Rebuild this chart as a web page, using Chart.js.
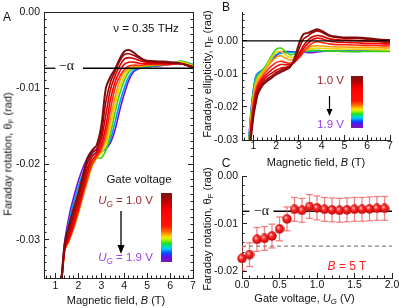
<!DOCTYPE html>
<html>
<head>
<meta charset="utf-8">
<title>Faraday rotation and ellipticity vs gate voltage</title>
<script src="https://cdn.jsdelivr.net/npm/chart.js@4.4.1/dist/chart.umd.min.js"></script>
<style>
  body { margin: 0; width: 399px; height: 308px; position: relative; overflow: hidden; background: #fff;
         font-family: "Liberation Sans", Arial, sans-serif; color: #111; }
  canvas { position: absolute; }
  .t { position: absolute; white-space: nowrap; transform: translate(-50%, -50%); font-size: 11px; line-height: 1; }
  .rot { transform: translate(-50%, -50%) rotate(-90deg); }
  .t sub { font-size: 72%; vertical-align: -0.28em; line-height: 0; }
  .panel { font-size: 12px; }
  .alpha { font-family: "Liberation Serif", "DejaVu Serif", serif; font-size: 14px; }
  .cbar { position: absolute; background: linear-gradient(to bottom, #7a1414 0%, #9c0a0a 7%, #c80000 14%, #ff0000 26%,
          #ff1400 48%, #ff6a00 56%, #ffc800 62%, #f0f000 65%, #90f000 69%, #20e020 73%, #00e0a0 77%, #00c8ff 81%,
          #0050ff 87%, #5a10f0 92%, #7a1ab0 100%); }
  svg { position: absolute; }
</style>
</head>
<body>
<canvas id="chartA" width="199" height="308" style="left:0;top:0"></canvas>
<canvas id="chartB" width="199" height="160" style="left:200px;top:0"></canvas>
<canvas id="chartC" width="199" height="148" style="left:200px;top:160px"></canvas>

<!-- panel A text -->
<div class="t panel" style="left:7px;top:17px">A</div>
<div class="t" style="left:146px;top:28.5px;font-size:11.5px">ν = 0.35 THz</div>
<div class="t alpha" style="left:66.5px;top:66px">−α</div>
<div class="t rot" style="left:8px;top:154px">Faraday rotation, θ<sub>F</sub> (rad)</div>
<div class="t" style="left:116px;top:300px">Magnetic field, <i>B</i> (T)</div>
<div class="t" style="left:139px;top:180px;font-size:11.5px">Gate voltage</div>
<div class="t" style="left:125.5px;top:201px;font-size:11.5px;color:#a0282a"><i>U</i><sub><i>G</i></sub> = 1.0 V</div>
<div class="t" style="left:125.5px;top:257.5px;font-size:11.5px;color:#9a40e8"><i>U</i><sub><i>G</i></sub> = 1.9 V</div>
<div class="cbar" style="left:161px;top:193px;width:11px;height:69px"></div>
<svg style="left:116px;top:211px" width="10" height="44">
  <line x1="5" y1="0" x2="5" y2="36" stroke="#000" stroke-width="1.3"/>
  <polygon points="1.5,34 8.5,34 5,43" fill="#000"/>
</svg>

<!-- panel B text -->
<div class="t panel" style="left:226px;top:7px">B</div>
<div class="t rot" style="left:207px;top:74px">Faraday ellipticity, η<sub>F</sub> (rad)</div>
<div class="t" style="left:316px;top:162px">Magnetic field, <i>B</i> (T)</div>
<div class="t" style="left:330.5px;top:81px;font-size:11.5px;color:#a0282a">1.0 V</div>
<div class="t" style="left:330.5px;top:125px;font-size:11.5px;color:#9a40e8">1.9 V</div>
<div class="cbar" style="left:351px;top:76px;width:12px;height:52px"></div>
<svg style="left:325px;top:96px" width="9" height="21">
  <line x1="4.5" y1="0" x2="4.5" y2="15" stroke="#000" stroke-width="1.2"/>
  <polygon points="1.5,13 7.5,13 4.5,20" fill="#000"/>
</svg>

<!-- panel C text -->
<div class="t panel" style="left:226px;top:163px">C</div>
<div class="t rot" style="left:207px;top:229px">Faraday rotation, θ<sub>F</sub> (rad)</div>
<div class="t" style="left:304.5px;top:298px">Gate voltage, <i>U</i><sub><i>G</i></sub> (V)</div>
<div class="t alpha" style="left:261.5px;top:211px">−α</div>
<div class="t" style="left:347px;top:266px;font-size:12px;color:#ff2020"><i>B</i> = 5 T</div>

<script>
// ---- data: panel A, Faraday rotation vs field for each gate voltage ----
const GATE_V = ['1.0', '1.1', '1.2', '1.3', '1.4', '1.5', '1.6', '1.7', '1.8', '1.9'];
const FIELD_A = [1.2, 1.4, 1.6, 1.8, 2.0, 2.2, 2.4, 2.6, 2.8, 3.0, 3.2, 3.4, 3.6, 3.8, 4.0, 4.2, 4.4, 4.6, 4.8, 5.0, 5.5, 6.0, 6.5, 7.0];
const ROT_1_0 = [-0.0380, -0.0305, -0.0280, -0.0258, -0.0238, -0.0215, -0.0192, -0.0182, -0.0175, -0.0150, -0.0100, -0.0085, -0.0075, -0.0062, -0.0052, -0.0050, -0.0053, -0.0058, -0.0062, -0.0064, -0.0065, -0.0066, -0.0068, -0.0073];
const ROT_1_1 = [-0.0385, -0.0308, -0.0287, -0.0265, -0.0245, -0.0222, -0.0198, -0.0185, -0.0180, -0.0160, -0.0118, -0.0092, -0.0078, -0.0065, -0.0056, -0.0055, -0.0057, -0.0060, -0.0063, -0.0065, -0.0066, -0.0067, -0.0068, -0.0072];
const ROT_1_2 = [-0.0385, -0.0310, -0.0293, -0.0272, -0.0252, -0.0230, -0.0205, -0.0190, -0.0184, -0.0168, -0.0135, -0.0102, -0.0084, -0.0071, -0.0062, -0.0060, -0.0061, -0.0063, -0.0065, -0.0066, -0.0067, -0.0068, -0.0068, -0.0072];
const ROT_1_3 = [-0.0385, -0.0312, -0.0297, -0.0278, -0.0258, -0.0235, -0.0212, -0.0195, -0.0187, -0.0175, -0.0150, -0.0115, -0.0092, -0.0078, -0.0069, -0.0066, -0.0066, -0.0067, -0.0068, -0.0068, -0.0068, -0.0068, -0.0068, -0.0073];
const ROT_1_4 = [-0.0385, -0.0314, -0.0300, -0.0282, -0.0262, -0.0240, -0.0218, -0.0200, -0.0190, -0.0180, -0.0160, -0.0128, -0.0100, -0.0085, -0.0076, -0.0071, -0.0070, -0.0070, -0.0070, -0.0069, -0.0069, -0.0069, -0.0068, -0.0073];
const ROT_1_5 = [-0.0385, -0.0315, -0.0300, -0.0285, -0.0265, -0.0243, -0.0222, -0.0203, -0.0192, -0.0182, -0.0168, -0.0140, -0.0112, -0.0091, -0.0079, -0.0074, -0.0072, -0.0071, -0.0071, -0.0070, -0.0069, -0.0069, -0.0067, -0.0072];
const ROT_1_6 = [-0.0385, -0.0314, -0.0297, -0.0280, -0.0258, -0.0236, -0.0215, -0.0198, -0.0192, -0.0186, -0.0175, -0.0150, -0.0122, -0.0099, -0.0084, -0.0076, -0.0073, -0.0072, -0.0071, -0.0070, -0.0069, -0.0068, -0.0066, -0.0071];
const ROT_1_7 = [-0.0385, -0.0312, -0.0290, -0.0268, -0.0245, -0.0225, -0.0207, -0.0195, -0.0192, -0.0192, -0.0182, -0.0160, -0.0132, -0.0108, -0.0090, -0.0079, -0.0074, -0.0073, -0.0072, -0.0071, -0.0070, -0.0068, -0.0065, -0.0070];
const ROT_1_8 = [-0.0380, -0.0308, -0.0275, -0.0250, -0.0230, -0.0212, -0.0197, -0.0188, -0.0185, -0.0184, -0.0180, -0.0168, -0.0145, -0.0120, -0.0100, -0.0085, -0.0077, -0.0074, -0.0073, -0.0072, -0.0070, -0.0068, -0.0065, -0.0069];
const ROT_1_9 = [-0.0375, -0.0303, -0.0268, -0.0243, -0.0222, -0.0205, -0.0192, -0.0185, -0.0182, -0.0182, -0.0180, -0.0172, -0.0155, -0.0130, -0.0108, -0.0090, -0.0079, -0.0075, -0.0073, -0.0072, -0.0071, -0.0069, -0.0066, -0.0070];
const ROT_CURVES = [ROT_1_0, ROT_1_1, ROT_1_2, ROT_1_3, ROT_1_4, ROT_1_5, ROT_1_6, ROT_1_7, ROT_1_8, ROT_1_9];

// ---- data: panel B, Faraday ellipticity ----
const FIELD_B = [0.8, 0.9, 1.0, 1.1, 1.2, 1.4, 1.6, 1.8, 2.0, 2.2, 2.4, 2.6, 2.8, 3.0, 3.2, 3.4, 3.6, 3.8, 4.0, 4.4, 5.0, 5.5, 6.0, 6.5, 7.0];
const ELL_1_0 = [-0.037, -0.029, -0.023, -0.019, -0.0160, -0.0135, -0.0122, -0.0112, -0.0102, -0.0095, -0.0088, -0.0080, -0.0055, -0.0010, 0.0020, 0.0024, 0.0030, 0.0035, 0.0030, 0.0015, 0.0010, 0.0010, 0.0008, 0.0004, 0.0002];
const ELL_1_1 = [-0.036, -0.028, -0.022, -0.018, -0.0152, -0.0128, -0.0116, -0.0106, -0.0096, -0.0089, -0.0083, -0.0077, -0.0060, -0.0025, 0.0005, 0.0015, 0.0025, 0.0030, 0.0026, 0.0013, 0.0008, 0.0007, 0.0005, 0.0002, 0.0000];
const ELL_1_2 = [-0.035, -0.027, -0.021, -0.017, -0.0145, -0.0122, -0.0108, -0.0098, -0.0089, -0.0083, -0.0080, -0.0076, -0.0064, -0.0040, -0.0015, 0.0002, 0.0012, 0.0016, 0.0014, 0.0005, 0.0002, 0.0001, -0.0001, -0.0003, -0.0005];
const ELL_1_3 = [-0.035, -0.026, -0.020, -0.016, -0.0138, -0.0115, -0.0100, -0.0088, -0.0078, -0.0072, -0.0072, -0.0072, -0.0065, -0.0048, -0.0025, -0.0008, 0.0004, 0.0008, 0.0006, -0.0002, -0.0005, -0.0006, -0.0008, -0.0009, -0.0010];
const ELL_1_4 = [-0.034, -0.025, -0.019, -0.015, -0.0130, -0.0108, -0.0090, -0.0076, -0.0066, -0.0062, -0.0065, -0.0068, -0.0064, -0.0052, -0.0035, -0.0018, -0.0007, -0.0003, -0.0005, -0.0010, -0.0012, -0.0013, -0.0014, -0.0015, -0.0016];
const ELL_1_5 = [-0.033, -0.024, -0.018, -0.014, -0.0120, -0.0100, -0.0080, -0.0062, -0.0050, -0.0045, -0.0052, -0.0058, -0.0055, -0.0045, -0.0032, -0.0022, -0.0016, -0.0015, -0.0016, -0.0018, -0.0019, -0.0020, -0.0020, -0.0021, -0.0022];
const ELL_1_6 = [-0.032, -0.023, -0.017, -0.013, -0.0112, -0.0095, -0.0075, -0.0052, -0.0035, -0.0032, -0.0042, -0.0050, -0.0048, -0.0040, -0.0032, -0.0026, -0.0023, -0.0022, -0.0023, -0.0024, -0.0025, -0.0026, -0.0026, -0.0027, -0.0028];
const ELL_1_7 = [-0.031, -0.022, -0.016, -0.012, -0.0105, -0.0090, -0.0070, -0.0045, -0.0026, -0.0022, -0.0032, -0.0042, -0.0040, -0.0036, -0.0032, -0.0030, -0.0029, -0.0029, -0.0030, -0.0031, -0.0032, -0.0033, -0.0032, -0.0032, -0.0032];
const ELL_1_8 = [-0.030, -0.021, -0.015, -0.011, -0.0098, -0.0088, -0.0072, -0.0055, -0.0042, -0.0038, -0.0036, -0.0035, -0.0034, -0.0033, -0.0032, -0.0032, -0.0031, -0.0030, -0.0030, -0.0031, -0.0032, -0.0032, -0.0031, -0.0030, -0.0030];
const ELL_1_9 = [-0.030, -0.021, -0.015, -0.011, -0.0098, -0.0090, -0.0078, -0.0062, -0.0045, -0.0035, -0.0033, -0.0033, -0.0033, -0.0033, -0.0034, -0.0036, -0.0036, -0.0034, -0.0032, -0.0031, -0.0031, -0.0031, -0.0030, -0.0030, -0.0030];
const ELL_CURVES = [ELL_1_0, ELL_1_1, ELL_1_2, ELL_1_3, ELL_1_4, ELL_1_5, ELL_1_6, ELL_1_7, ELL_1_8, ELL_1_9];

// ---- data: panel C, rotation at B = 5 T vs gate voltage ----
const GATE_C = [0.0, 0.1, 0.2, 0.3, 0.4, 0.5, 0.6, 0.7, 0.8, 0.9, 1.0, 1.1, 1.2, 1.3, 1.4, 1.5, 1.6, 1.7, 1.8, 1.9];
const ROT_C = [-0.0173, -0.0165, -0.0133, -0.0131, -0.0126, -0.0111, -0.0090, -0.0070, -0.0072, -0.0064, -0.0067, -0.0070, -0.0071, -0.0072, -0.0071, -0.0070, -0.0070, -0.0069, -0.0068, -0.0068];
const ERR_C = [0.0025, 0.0025, 0.0025, 0.0025, 0.0025, 0.0025, 0.0025, 0.0025, 0.0025, 0.0025, 0.0025, 0.0025, 0.0025, 0.0025, 0.0025, 0.0025, 0.0025, 0.0025, 0.0025, 0.0025];

// reference levels
const ALPHA = -0.0074;
const ALPHA_SEG_A = [[0.5, 1.0], [2.2, 7.0]];
const ALPHA_SEG_C = [[0.0, 0.1], [0.42, 2.0]];
const ZERO_SEG_B = [0.5, 7.0];
const LEVEL_C = -0.0147;

// ticks
const A_X_TICKS = [1, 2, 3, 4, 5, 6, 7];
const A_X_LABELS = ['1', '2', '3', '4', '5', '6', '7'];
const A_Y_TICKS = [0, -0.01, -0.02, -0.03];
const A_Y_LABELS = ['0.00', '-0.01', '-0.02', '-0.03'];
const B_Y_TICKS = [0, -0.01, -0.02, -0.03];
const B_Y_LABELS = ['0.00', '-0.01', '-0.02', '-0.03'];
const C_X_TICKS = [0, 0.5, 1, 1.5, 2];
const C_X_LABELS = ['0.0', '0.5', '1.0', '1.5', '2.0'];
const C_Y_TICKS = [0, -0.01, -0.02];
const C_Y_LABELS = ['0.00', '-0.01', '-0.02'];

const CURVE_COLORS = ['#7d0c0c', '#a80000', '#d20000', '#f00000', '#ff2a10', '#ff9a00', '#ecd400', '#3cd400', '#0096ff', '#7410d8'];
const FONT_TICK = { family: '"Liberation Sans", Arial, sans-serif', size: 10.5 };

function minorTicks(min, max, step) {
  const out = [];
  for (let i = Math.ceil(min / step - 1e-6); i * step <= max + 1e-9; i++) out.push({ value: +(i * step).toFixed(6) });
  return out;
}

// major axis (labels, long inward ticks) plus a zero-size minor axis on the same side
function axisPair(key, position, range, majors, labels, minorStep, size, pad) {
  const horiz = position === 'bottom' || position === 'top';
  const fit = v => s => {
    if (horiz) s.height = v; else s.width = v;
    s.paddingLeft = s.paddingRight = s.paddingTop = s.paddingBottom = 0;
  };
  const base = { type: 'linear', position, min: range[0], max: range[1] };
  const scales = {};
  scales[key] = {
    ...base, weight: 1,
    border: { display: true, color: '#222', width: 1 },
    grid: { drawOnChartArea: false, tickLength: -5, color: '#222', tickColor: '#222' },
    ticks: { display: !!labels, padding: pad, color: '#111', font: FONT_TICK, maxRotation: 0, autoSkip: false,
             callback: (v, i) => labels ? labels[i] : '' },
    afterBuildTicks: s => { s.ticks = majors.map(v => ({ value: v })); },
    afterFit: fit(size),
  };
  scales[key + 'Minor'] = {
    ...base, weight: 0,
    border: { display: false },
    grid: { drawOnChartArea: false, tickLength: -2.5, color: '#222', tickColor: '#222' },
    ticks: { display: false },
    afterBuildTicks: s => { s.ticks = minorTicks(range[0], range[1], minorStep); },
    afterFit: fit(0),
  };
  return scales;
}

function segment(xs, y, color, width, dash) {
  return {
    data: xs.map(x => ({ x, y })), borderColor: color, borderWidth: width, borderDash: dash || [],
    pointRadius: 0, xAxisID: 'x', yAxisID: 'y',
  };
}

function curveSets(fields, curves) {
  return curves.map((vals, k) => ({
    label: GATE_V[k] + ' V',
    data: fields.map((b, i) => ({ x: b, y: vals[i] })),
    borderColor: CURVE_COLORS[k],
    borderWidth: k === 0 ? 2 : 1.6,
    pointRadius: 0, tension: 0.3, xAxisID: 'x', yAxisID: 'y',
  }));
}

const COMMON = {
  responsive: false, animation: false, events: [],
  plugins: { legend: { display: false }, tooltip: { enabled: false } },
};

// ---- panel A ----
new Chart(document.getElementById('chartA'), {
  type: 'line',
  data: {
    datasets: [
      ...ALPHA_SEG_A.map(s => segment(s, ALPHA, '#000', 1.3)),
      ...curveSets(FIELD_A, ROT_CURVES),
    ],
  },
  options: {
    ...COMMON,
    layout: { padding: { top: 12, right: 6, left: 0, bottom: 0 } },
    scales: {
      ...axisPair('x', 'bottom', [0.5, 7], A_X_TICKS, A_X_LABELS, 0.2, 30, 7),
      ...axisPair('y', 'left', [-0.035, 0], A_Y_TICKS, A_Y_LABELS, 0.001, 44, 9),
      ...axisPair('yr', 'right', [-0.035, 0], A_Y_TICKS, null, 0.001, 0, 0),
      xt: {
        type: 'linear', position: 'top', min: 0.5, max: 7,
        border: { display: true, color: '#222' },
        grid: { drawOnChartArea: false, drawTicks: false },
        ticks: { display: false },
        afterFit: s => { s.height = 0; s.paddingLeft = s.paddingRight = 0; },
      },
    },
  },
});

// ---- panel B ----
new Chart(document.getElementById('chartB'), {
  type: 'line',
  data: {
    datasets: [
      segment(ZERO_SEG_B, 0, '#000', 1.2),
      ...curveSets(FIELD_B, ELL_CURVES),
    ],
  },
  options: {
    ...COMMON,
    layout: { padding: { top: 12, right: 9, left: 0, bottom: 0 } },
    scales: {
      ...axisPair('x', 'bottom', [0.5, 7], A_X_TICKS, A_X_LABELS, 0.2, 20, 5),
      ...axisPair('y', 'left', [-0.03, 0.0087], B_Y_TICKS, B_Y_LABELS, 0.002, 42, 9),
    },
  },
});

// ---- panel C ----
const ball = document.createElement('canvas');
ball.width = ball.height = 10;
{
  const g = ball.getContext('2d');
  const grad = g.createRadialGradient(3.6, 3.4, 0.4, 5, 5, 5);
  grad.addColorStop(0, '#ffc4c4');
  grad.addColorStop(0.35, '#ff2a2a');
  grad.addColorStop(1, '#b80000');
  g.fillStyle = grad;
  g.beginPath();
  g.arc(5, 5, 4.7, 0, Math.PI * 2);
  g.fill();
}

const errPoints = [];
GATE_C.forEach((u, i) => {
  errPoints.push({ x: u, y: ROT_C[i] - ERR_C[i] }, { x: u, y: ROT_C[i] + ERR_C[i] }, { x: u, y: null });
});

new Chart(document.getElementById('chartC'), {
  type: 'line',
  data: {
    datasets: [
      {
        data: GATE_C.map((u, i) => ({ x: u, y: ROT_C[i] })),
        showLine: false, pointStyle: ball, pointRadius: 5, clip: false, xAxisID: 'x', yAxisID: 'y',
      },
      {
        data: errPoints, borderColor: 'rgba(240,90,90,0.75)', borderWidth: 1.3, spanGaps: false,
        pointStyle: 'line', pointRadius: 3.5, pointBorderColor: 'rgba(240,90,90,0.75)', pointBorderWidth: 1.3,
        xAxisID: 'x', yAxisID: 'y',
      },
      ...ALPHA_SEG_C.map(s => segment(s, ALPHA, '#000', 1.3)),
      segment([0, 2], LEVEL_C, '#888', 1.2, [4, 3]),
    ],
  },
  options: {
    ...COMMON,
    layout: { padding: { top: 16, right: 7, left: 0, bottom: 0 } },
    scales: {
      ...axisPair('x', 'bottom', [0, 2], C_X_TICKS, C_X_LABELS, 0.1, 30, 6),
      ...axisPair('y', 'left', [-0.0214, 0], C_Y_TICKS, C_Y_LABELS, 0.002, 42, 9),
    },
  },
});
</script>
</body>
</html>
